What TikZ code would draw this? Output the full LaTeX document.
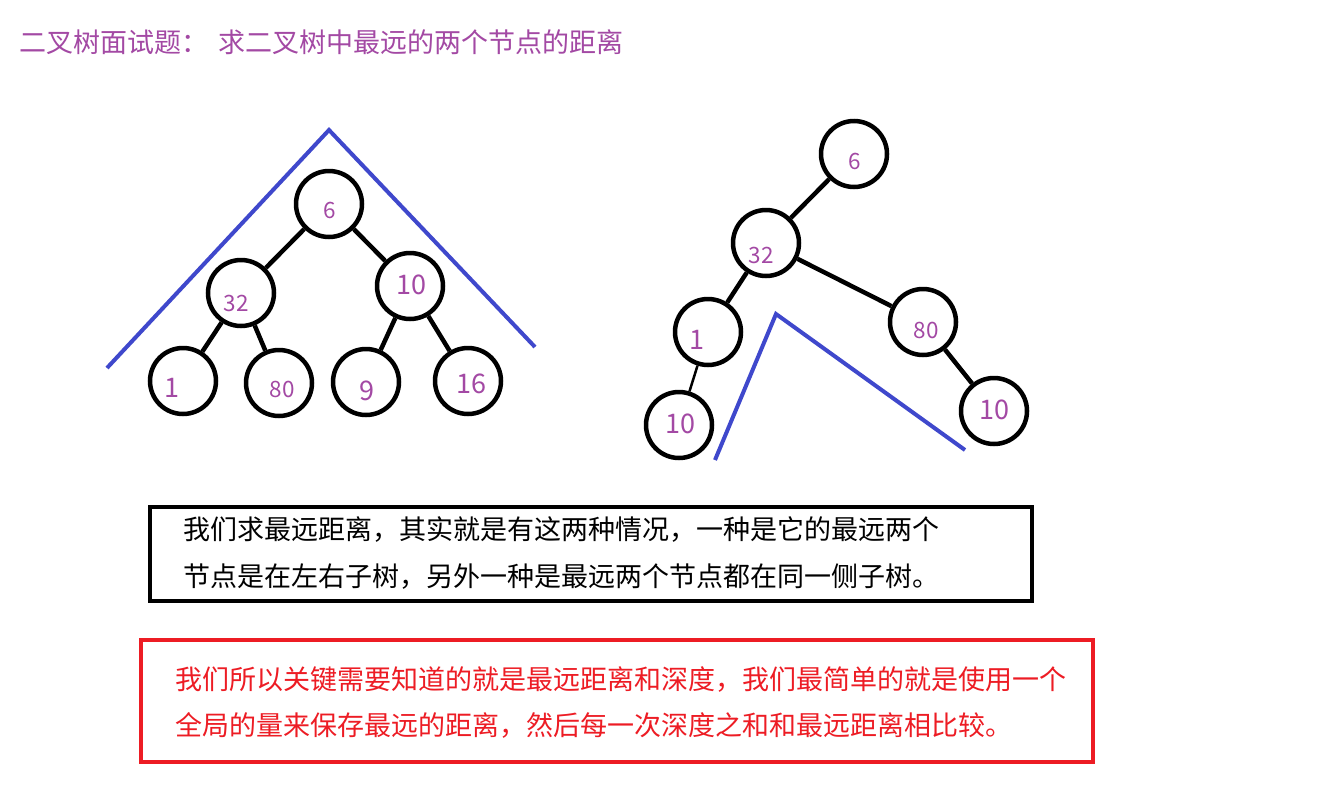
\documentclass[tikz,border=0pt]{standalone}
\usepackage{fontspec}
\setmainfont{Noto Sans CJK SC}
\usepackage{xcolor}
\definecolor{Orchid}{HTML}{A349A4}
\definecolor{Indigo}{HTML}{3F48CC}
\definecolor{Scarlet}{HTML}{ED1C24}
\tikzset{
  bnode/.style={circle,draw=black,line width=4.5pt,minimum size=66pt,inner sep=0pt},
  bedge/.style={draw=black,line width=4.5pt},
  num/.style={text=Orchid,inner sep=0pt,font=\fontsize{27}{30}\selectfont},
  smallnum/.style={num,font=\fontsize{22.5}{26}\selectfont},
  hull/.style={draw=Indigo,line width=4pt},
  say/.style={anchor=west,inner sep=0pt,font=\fontsize{27}{32}\selectfont},
}

\begin{document}
\begin{tikzpicture}[x=1pt,y=-1pt]
  \fill[white] (0,0) rectangle (1328,798);
  \useasboundingbox (0,0) rectangle (1328,798);

  % title
  \node[say,text=Orchid] (title) at (19,42) {二叉树面试题：\hspace{10pt}求二叉树中最远的两个节点的距离};

  % balanced tree
  \node[bnode] (a6) at (329,204) {};
  \node[bnode] (a32) at (241,293) {};
  \node[bnode] (a10) at (410,286) {};
  \node[bnode] (a1) at (183,381) {};
  \node[bnode] (a80) at (279,383) {};
  \node[bnode] (a9) at (366,382) {};
  \node[bnode] (a16) at (468,381) {};
  \draw[bedge] (a6) -- (a32);
  \draw[bedge] (a6) -- (a10);
  \draw[bedge] (a32) -- (a1);
  \draw[bedge] (a32) -- (a80);
  \draw[bedge] (a10) -- (a9);
  \draw[bedge] (a10) -- (a16);
  \node[smallnum] (la6) at (330,210) {6};
  \node[smallnum] (la32) at (236,303) {32};
  \node[num] (la10) at (411,285) {10};
  \node[num] (la1) at (172,388) {1};
  \node[smallnum] (la80) at (282,389) {80};
  \node[num] (la9) at (367,391) {9};
  \node[num] (la16) at (471,384) {16};

  \coordinate (ha) at (107,368);
  \coordinate (hb) at (329,130);
  \coordinate (hc) at (535,347);
  \draw[hull] (ha) -- (hb) -- (hc);

  % one-sided tree
  \node[bnode] (b6) at (854,154) {};
  \node[bnode] (b32) at (766,243) {};
  \node[bnode] (b1) at (708,332) {};
  \node[bnode] (b10) at (679,425) {};
  \node[bnode] (b80) at (923,322) {};
  \node[bnode] (c10) at (994,411) {};
  \draw[bedge] (b6) -- (b32);
  \draw[bedge] (b32) -- (b1);
  \draw[bedge] (b32) -- (b80);
  \draw[bedge,line width=2.5pt] (b1) -- (b10);
  \draw[bedge] (b80) -- (c10);
  \node[smallnum] (lb6) at (855,161) {6};
  \node[smallnum] (lb32) at (761,255) {32};
  \node[num] (lb1) at (697,340) {1};
  \node[num] (lb10) at (680,424) {10};
  \node[smallnum] (lb80) at (926,330) {80};
  \node[num] (lc10) at (994,410) {10};

  \coordinate (hd) at (715,460);
  \coordinate (he) at (776,314);
  \coordinate (hf) at (965,450);
  \draw[hull] (hd) -- (he) -- (hf);

  % notes
  \node[draw=black,line width=4pt,minimum width=882pt,minimum height=94pt,inner sep=0pt] (note) at (591,554) {};
  \node[say] (note1) at (183,530) {我们求最远距离，其实就是有这两种情况，一种是它的最远两个};
  \node[say] (note2) at (183,577) {节点是在左右子树，另外一种是最远两个节点都在同一侧子树。};

  \node[draw=Scarlet,line width=4pt,minimum width=952pt,minimum height=122pt,inner sep=0pt] (memo) at (617,701) {};
  \node[say,text=Scarlet] (memo1) at (175,680) {我们所以关键需要知道的就是最远距离和深度，我们最简单的就是使用一个};
  \node[say,text=Scarlet] (memo2) at (175,725) {全局的量来保存最远的距离，然后每一次深度之和和最远距离相比较。};
\end{tikzpicture}
\end{document}
